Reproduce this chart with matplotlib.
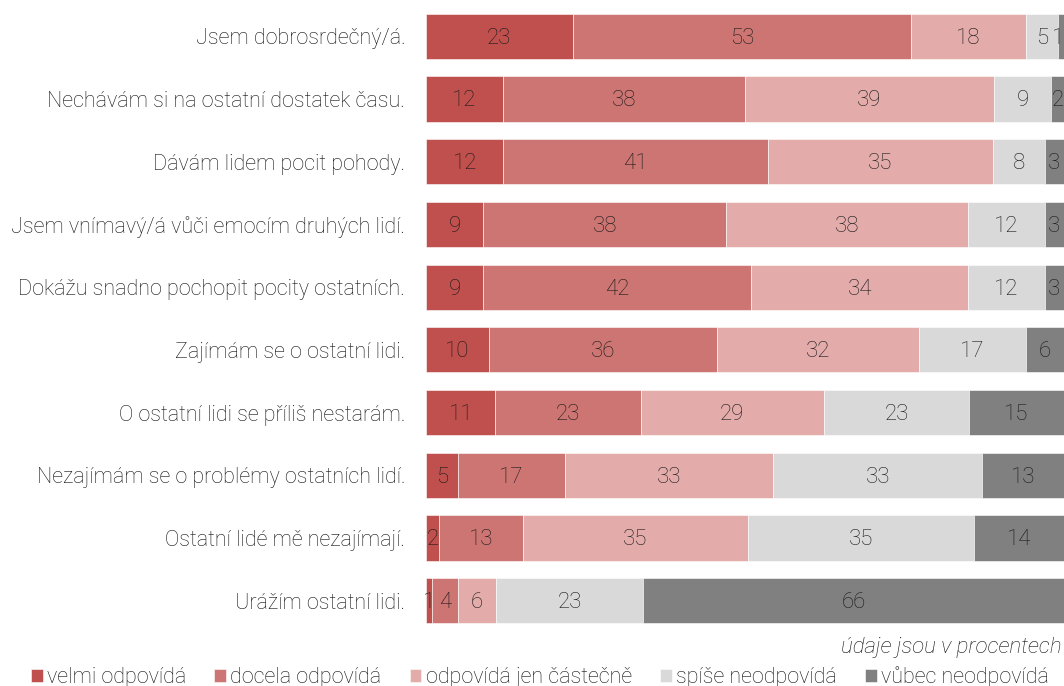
import matplotlib.pyplot as plt
import numpy as np

plt.rcParams['font.family'] = ['Roboto', 'DejaVu Sans']

kategorie = ["Jsem dobrosrdečný/á.",
             "Nechávám si na ostatní dostatek času.",
             "Dávám lidem pocit pohody.",
             "Jsem vnímavý/á vůči emocím druhých lidí.",
             "Dokážu snadno pochopit pocity ostatních.",
             "Zajímám se o ostatní lidi.",
             "O ostatní lidi se příliš nestarám.",
             "Nezajímám se o problémy ostatních lidí.",
             "Ostatní lidé mě nezajímají.",
             "Urážím ostatní lidi."]

serie = ["velmi odpovídá", "docela odpovídá", "odpovídá jen částečně",
         "spíše neodpovídá", "vůbec neodpovídá"]

velmi = [23, 12, 12, 9, 9, 10, 11, 5, 2, 1]
docela = [53, 38, 41, 38, 42, 36, 23, 17, 13, 4]
castecne = [18, 39, 35, 38, 34, 32, 29, 33, 35, 6]
spise_ne = [5, 9, 8, 12, 12, 17, 23, 33, 35, 23]
vubec_ne = [1, 2, 3, 3, 3, 6, 15, 13, 14, 66]

barvy = ["#c0504d", "#cd7572", "#e3acab", "#d9d9d9", "#808080"]

data = np.array([velmi, docela, castecne, spise_ne, vubec_ne], dtype=float)
# kazdy radek dopocitat na 100 %, aby pruhy koncily stejne
sirky = data / data.sum(axis=0) * 100

fig = plt.figure(figsize=(10.64, 6.86), dpi=100)
ax = fig.add_axes([426 / 1064, 1 - 632 / 686, 638 / 1064, 627 / 686])

y = np.arange(len(kategorie))
left = np.zeros(len(kategorie))
for i, nazev in enumerate(serie):
    ax.barh(y, sirky[i], left=left, height=0.72, color=barvy[i],
            edgecolor='white', linewidth=0.4, label=nazev)
    for j in range(len(kategorie)):
        # popisek u praveho okraje posunout, aby nebyl oriznuty
        xt = min(left[j] + sirky[i][j] / 2, 99.1)
        ax.text(xt, y[j] + 0.03, f"{int(data[i][j])}",
                ha='center', va='center', fontsize=16, color='#1a1a1a',
                fontweight='light')
    left += sirky[i]

ax.set_xlim(0, 100)
ax.set_ylim(len(kategorie) - 0.5, -0.5)
ax.set_yticks(y)
ax.set_yticklabels(kategorie, fontsize=15.5, fontweight='light', color='#111111')
ax.set_xticks([])
ax.tick_params(axis='y', length=0, pad=15)
for s in ax.spines.values():
    s.set_visible(False)

fig.text(0.998, 1 - 648 / 686, "údaje jsou v procentech", ha='right', va='center',
         fontsize=16, style='italic', fontweight='light', color='#111111')

leg = fig.legend(loc='lower left', bbox_to_anchor=(0.021, -0.015), ncol=5, frameon=False,
                 prop={'size': 15.5, 'weight': 'light'}, handlelength=0.55,
                 handleheight=0.55, handletextpad=0.2, columnspacing=1.3,
                 borderaxespad=0)
for t in leg.get_texts():
    t.set_color('#111111')

fig.savefig("out.png", dpi=100)
